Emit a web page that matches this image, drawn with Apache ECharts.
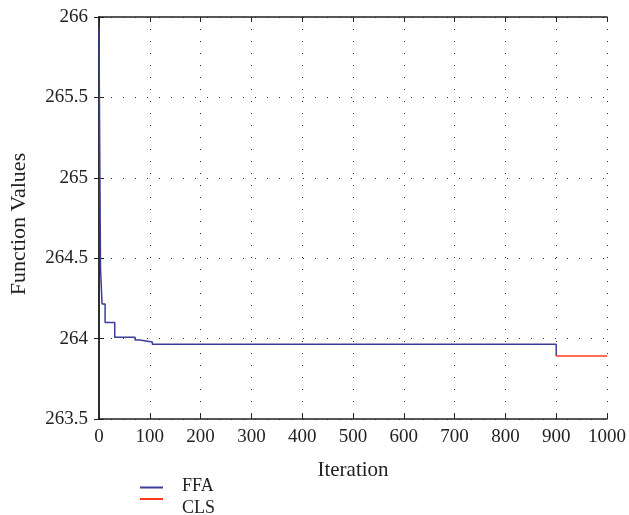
<!DOCTYPE html>
<html>
<head>
<meta charset="utf-8">
<script src="https://cdn.jsdelivr.net/npm/echarts@6/dist/echarts.min.js"></script>
<style>html,body{margin:0;padding:0;background:#fff}#c{width:629px;height:515px}</style>
</head>
<body>
<div id="c"></div>
<script>
const xTicks = [0, 100, 200, 300, 400, 500, 600, 700, 800, 900, 1000];
const yTicks = [263.5, 264, 264.5, 265, 265.5, 266];
const ffaIter = [0, 1, 2, 3, 6, 6, 12, 12, 31, 31, 71, 71, 80, 80, 105, 105, 900, 900];
const ffaVal  = [265.93, 265.4, 264.9, 264.44, 264.44, 264.215, 264.215, 264.10, 264.10, 264.008, 264.008, 263.991, 263.991, 263.979, 263.979, 263.965, 263.965, 263.892];
const clsIter = [900, 1000];
const clsVal  = [263.892, 263.892];

const FONT = 'Liberation Serif';
const TICK_FS = 19;
const NAME_FS = 21;
const LEG_FS = 18;
const chart = echarts.init(document.getElementById('c'), null, {renderer: 'canvas'});
const zip = (a, b) => a.map((v, i) => [v, b[i]]);
const splitStyle = {show: true, lineStyle: {color: '#333', width: 1, type: [1, 11]}};
const axisLineStyle = {show: true, lineStyle: {color: '#222', width: 1.5}};
const tickStyle = {show: true, inside: true, length: 5, lineStyle: {color: '#222', width: 1}};
chart.setOption({
  animation: false,
  backgroundColor: '#fff',
  grid: {left: 97, right: 19, top: 17, bottom: 96},
  legend: [
    {data: ['FFA'], orient: 'vertical', left: 140, top: 477, padding: 0, itemWidth: 23, itemHeight: 2,
     icon: 'rect', formatter: '{a|{name}}',
     textStyle: {fontFamily: FONT, fontSize: LEG_FS, color: '#222',
       rich: {a: {fontFamily: FONT, fontSize: LEG_FS, color: '#222', padding: [0, 0, 3, 14]}}}},
    {data: ['CLS'], orient: 'vertical', left: 140, top: 498, padding: 0, itemWidth: 23, itemHeight: 2,
     icon: 'rect', formatter: '{a|{name}}',
     textStyle: {fontFamily: FONT, fontSize: LEG_FS, color: '#222',
       rich: {a: {fontFamily: FONT, fontSize: LEG_FS, color: '#222', padding: [18, 0, 0, 14]}}}}
  ],
  xAxis: [
    {type: 'value', min: xTicks[0], max: xTicks[xTicks.length - 1], interval: 100,
     name: 'Iteration', nameLocation: 'middle', nameGap: 41,
     nameTextStyle: {fontFamily: FONT, fontSize: NAME_FS, color: '#222'},
     axisLine: axisLineStyle, axisTick: tickStyle, splitLine: splitStyle,
     axisLabel: {fontFamily: FONT, fontSize: TICK_FS, color: '#222', margin: 9, formatter: v => String(v)}},
    {type: 'value', position: 'top', min: xTicks[0], max: xTicks[xTicks.length - 1], interval: 100,
     axisLine: axisLineStyle, axisTick: tickStyle, splitLine: {show: false}, axisLabel: {show: false}}
  ],
  yAxis: [
    {type: 'value', min: yTicks[0], max: yTicks[yTicks.length - 1], interval: 0.5,
     name: 'Function Values', nameLocation: 'middle', nameGap: 69,
     nameTextStyle: {fontFamily: FONT, fontSize: 22, color: '#222', padding: [0, 12, 0, 0]},
     axisLine: axisLineStyle, axisTick: tickStyle, splitLine: splitStyle,
     axisLabel: {fontFamily: FONT, fontSize: TICK_FS, color: '#222', margin: 11}},
    {type: 'value', position: 'right', min: yTicks[0], max: yTicks[yTicks.length - 1], interval: 0.5,
     axisLine: axisLineStyle, axisTick: tickStyle, splitLine: {show: false}, axisLabel: {show: false}}
  ],
  series: [
    {name: 'FFA', type: 'line', data: zip(ffaIter, ffaVal), showSymbol: false, symbol: 'none',
     color: '#3d3d99', lineStyle: {width: 1.5, color: '#3d3d99'}, z: 3},
    {name: 'CLS', type: 'line', data: zip(clsIter, clsVal), showSymbol: false, symbol: 'none',
     color: '#ff3b1f', lineStyle: {width: 1.5, color: '#ff3b1f'}, z: 4}
  ]
});
</script>
</body>
</html>
